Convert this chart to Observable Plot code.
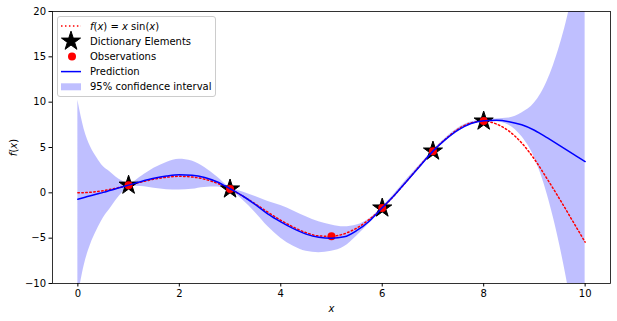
<!DOCTYPE html>
<html>
<head>
<meta charset="utf-8">
<script src="https://cdn.jsdelivr.net/npm/d3@7"></script>
<script src="https://cdn.jsdelivr.net/npm/@observablehq/plot@0.6"></script>
<style>
  html, body { margin: 0; padding: 0; background: #fff; }
  #wrap { position: relative; width: 617px; height: 321px; font-family: "DejaVu Sans", sans-serif; }
  #legend { position: absolute; left: 57px; top: 16px; }
</style>
</head>
<body>
<div id="wrap"></div>
<script>
// True function f(x) = x sin(x)
const fX = [0,0.25,0.5,0.75,1,1.25,1.5,1.75,2,2.25,2.5,2.75,3,3.25,3.5,3.75,4,4.25,4.5,4.75,5,5.25,5.5,5.75,6,6.25,6.5,6.75,7,7.25,7.5,7.75,8,8.25,8.5,8.75,9,9.25,9.5,9.75,10];
const fY = [0,0.06,0.24,0.51,0.84,1.19,1.5,1.72,1.82,1.75,1.5,1.05,0.42,-0.35,-1.23,-2.15,-3.03,-3.78,-4.4,-4.75,-4.79,-4.52,-3.88,-2.91,-1.68,-0.21,1.4,3.05,4.6,5.94,7.04,7.71,7.91,7.59,6.8,5.5,3.71,1.55,-0.71,-3.07,-5.44];

// Prediction (mean) and half-width of the 95% confidence interval
const predX = [0,0.125,0.25,0.375,0.5,0.625,0.75,0.875,1,1.25,1.5,1.75,2,2.25,2.5,2.75,3,3.25,3.5,3.75,4,4.25,4.5,4.75,5,5.25,5.5,5.75,6,6.25,6.5,6.75,7,7.25,7.5,7.75,8,8.25,8.5,8.75,9,9.125,9.25,9.375,9.5,9.625,9.75,9.875,10];
const predY = [-0.7,-0.51,-0.32,-0.13,0.05,0.25,0.45,0.65,0.85,1.25,1.6,1.85,2.0,1.95,1.7,1.2,0.45,-0.35,-1.3,-2.35,-3.2,-3.95,-4.55,-4.9,-5.0,-4.85,-4.15,-3.1,-1.65,-0.2,1.4,3.0,4.6,5.9,6.95,7.65,7.95,8.0,7.85,7.5,6.9,6.5,6.08,5.65,5.21,4.77,4.33,3.89,3.45];
const ciHalf = [10.9,7.5,5.4,4.0,2.85,2.1,1.3,0.65,0.12,0.55,1.1,1.5,1.7,1.55,1.1,0.55,0.12,0.45,0.9,1.4,1.8,1.95,1.9,1.7,1.45,1.1,0.6,0.25,0.1,0.15,0.2,0.15,0.1,0.15,0.2,0.15,0.1,0.15,0.4,1.3,3.0,4.4,6.2,8.4,11,14,17.5,21.5,26];

// Observations and dictionary elements
const obsX = [1,3,5,6,7,8];
const obsY = [0.84,0.42,-4.79,-1.68,4.6,7.91];
const dictX = [1,3,6,7,8];
const dictY = [0.84,0.42,-1.68,4.6,7.91];

const yTicks = [-10,-5,0,5,10,15,20];
const xTicks = [0,2,4,6,8,10];

const fData = fX.map((x,i)=>({x, y: fY[i]}));
const band = predX.map((x,i)=>({x, y: predY[i], lo: predY[i]-ciHalf[i], hi: predY[i]+ciHalf[i]}));
const obs = obsX.map((x,i)=>({x, y: obsY[i]}));
const dict = dictX.map((x,i)=>({x, y: dictY[i]}));

const chart = Plot.plot({
  width: 617,
  height: 321,
  marginLeft: 52,
  marginRight: 7,
  marginTop: 11,
  marginBottom: 38,
  style: {fontFamily: "DejaVu Sans, sans-serif", fontSize: "10px", color: "black", background: "white"},
  x: {domain: [-0.5, 10.5]},
  y: {domain: [-10, 20]},
  marks: [
    Plot.areaY(band, {x: "x", y1: "lo", y2: "hi", fill: "#0000ff", fillOpacity: 0.25, curve: "monotone-x", clip: true}),
    Plot.line(fData, {x: "x", y: "y", stroke: "#ff0000", strokeWidth: 1.5, strokeDasharray: "1.5,2.475", curve: "monotone-x", clip: true}),
    Plot.dot(dict, {x: "x", y: "y", symbol: "star", r: 6, fill: "black", stroke: "black", strokeWidth: 1}),
    Plot.dot(obs, {x: "x", y: "y", r: 4, fill: "#ff0000"}),
    Plot.line(band, {x: "x", y: "y", stroke: "#0000ff", strokeWidth: 1.5, curve: "monotone-x", clip: true}),
    Plot.axisX({ticks: xTicks, tickSize: 3.5, tickPadding: 3, label: "x", labelAnchor: "center", labelOffset: 28}),
    Plot.axisY({ticks: yTicks, tickSize: 3.5, tickPadding: 3, label: "f(x)", labelAnchor: "center", labelOffset: 43}),
    Plot.frame({stroke: "black", strokeWidth: 0.8})
  ]
});

const wrap = document.getElementById("wrap");
wrap.appendChild(chart);

// italic axis labels (math-style)
const svg = d3.select(chart);
svg.selectAll('[aria-label="x-axis label"] text').style("font-style", "italic").text("x");
svg.selectAll('[aria-label="y-axis label"] text').each(function() {
  const t = d3.select(this);
  t.text("");
  t.append("tspan").style("font-style", "italic").text("f");
  t.append("tspan").text("(");
  t.append("tspan").style("font-style", "italic").text("x");
  t.append("tspan").text(")");
});

// Legend
const legendItems = [
  {kind: "dotted", html: '<tspan font-style="italic">f</tspan>(<tspan font-style="italic">x</tspan>) = <tspan font-style="italic">x</tspan> sin(<tspan font-style="italic">x</tspan>)'},
  {kind: "star", html: "Dictionary Elements"},
  {kind: "dot", html: "Observations"},
  {kind: "line", html: "Prediction"},
  {kind: "patch", html: "95% confidence interval"}
];
const lg = d3.select(wrap).append("svg").attr("id", "legend").attr("width", 160).attr("height", 82)
  .style("font-family", "DejaVu Sans, sans-serif").style("font-size", "10px");
lg.append("rect").attr("x", 0.5).attr("y", 0.5).attr("width", 158).attr("height", 80).attr("rx", 2.5)
  .attr("fill", "white").attr("fill-opacity", 0.8).attr("stroke", "#cccccc").attr("stroke-width", 1);
legendItems.forEach((it, i) => {
  const cy = 10 + i * 15.2;
  const g = lg.append("g");
  if (it.kind === "dotted") {
    g.append("line").attr("x1", 4).attr("x2", 24).attr("y1", cy).attr("y2", cy)
      .attr("stroke", "#ff0000").attr("stroke-width", 1.5).attr("stroke-dasharray", "1.5,2.475");
  } else if (it.kind === "star") {
    g.append("path").attr("d", d3.symbol(d3.symbolStar, Math.PI * 36)()).attr("transform", `translate(14,${cy})`)
      .attr("fill", "black").attr("stroke", "black");
  } else if (it.kind === "dot") {
    g.append("circle").attr("cx", 15).attr("cy", cy).attr("r", 4).attr("fill", "#ff0000");
  } else if (it.kind === "line") {
    g.append("line").attr("x1", 4).attr("x2", 24).attr("y1", cy).attr("y2", cy)
      .attr("stroke", "#0000ff").attr("stroke-width", 1.5);
  } else {
    g.append("rect").attr("x", 4).attr("y", cy - 3.5).attr("width", 20).attr("height", 7)
      .attr("fill", "#0000ff").attr("fill-opacity", 0.25);
  }
  g.append("text").attr("x", 33).attr("y", cy + 3.6).attr("fill", "black").html(it.html);
});
</script>
</body>
</html>
